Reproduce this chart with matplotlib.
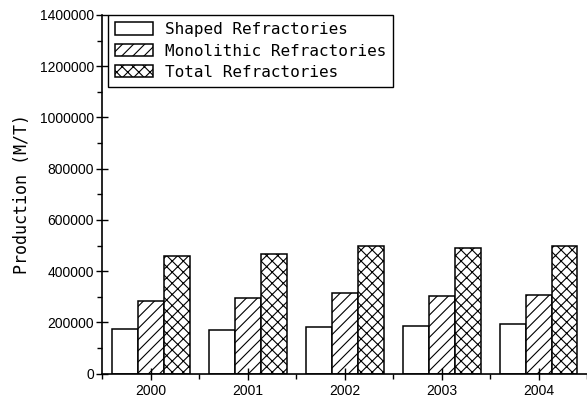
import numpy as np
import matplotlib
matplotlib.use('Agg')
import matplotlib.pyplot as plt
from matplotlib.ticker import MultipleLocator, FormatStrFormatter

years = ['2000', '2001', '2002', '2003', '2004']
shaped = [173000, 169000, 182000, 187000, 192000]
monolithic = [284000, 295000, 316000, 302000, 309000]
total = [461000, 468000, 499000, 489000, 499000]
series_names = ['Shaped Refractories', 'Monolithic Refractories', 'Total Refractories']

plt.rcParams['hatch.linewidth'] = 0.8

fig = plt.figure(figsize=(5.87, 4.04), dpi=100)
ax = fig.add_axes([0.174, 0.075, 0.826, 0.888])

x = np.arange(len(years))
w = 0.268
bar_kw = dict(width=w, color='white', edgecolor='black', linewidth=1.1)
ax.bar(x - w, shaped, label=series_names[0], **bar_kw)
ax.bar(x, monolithic, hatch='///', label=series_names[1], **bar_kw)
ax.bar(x + w, total, hatch='xxx', label=series_names[2], **bar_kw)

ax.set_xlim(-0.5, 4.5)
ax.set_ylim(0, 1400000)
ax.set_xticks(x)
ax.set_xticklabels(years)
ax.xaxis.set_minor_locator(MultipleLocator(1, offset=0.5))
ax.yaxis.set_major_locator(MultipleLocator(200000))
ax.yaxis.set_minor_locator(MultipleLocator(100000))
ax.yaxis.set_major_formatter(FormatStrFormatter('%d'))

ax.tick_params(which='major', direction='inout', length=8, width=1,
               labelsize=10, labelfontfamily='Liberation Sans')
ax.tick_params(which='minor', direction='out', length=3.5, width=1)
ax.tick_params(axis='y', pad=2)
ax.spines['top'].set_visible(False)
ax.spines['right'].set_visible(False)
for s in ['left', 'bottom']:
    ax.spines[s].set_linewidth(1.2)

ax.set_ylabel('Production (M/T)', fontfamily='DejaVu Sans Mono', fontsize=12, labelpad=6)

leg = ax.legend(loc='upper left', bbox_to_anchor=(0.012, 1.0), borderaxespad=0,
                prop={'family': 'DejaVu Sans Mono', 'size': 11.5},
                handlelength=2.4, handleheight=0.8, handletextpad=0.7,
                labelspacing=0.4, borderpad=0.45, fancybox=False, framealpha=1)
leg.get_frame().set_edgecolor('black')
leg.get_frame().set_linewidth(1.0)

fig.savefig('out.png', dpi=100)
